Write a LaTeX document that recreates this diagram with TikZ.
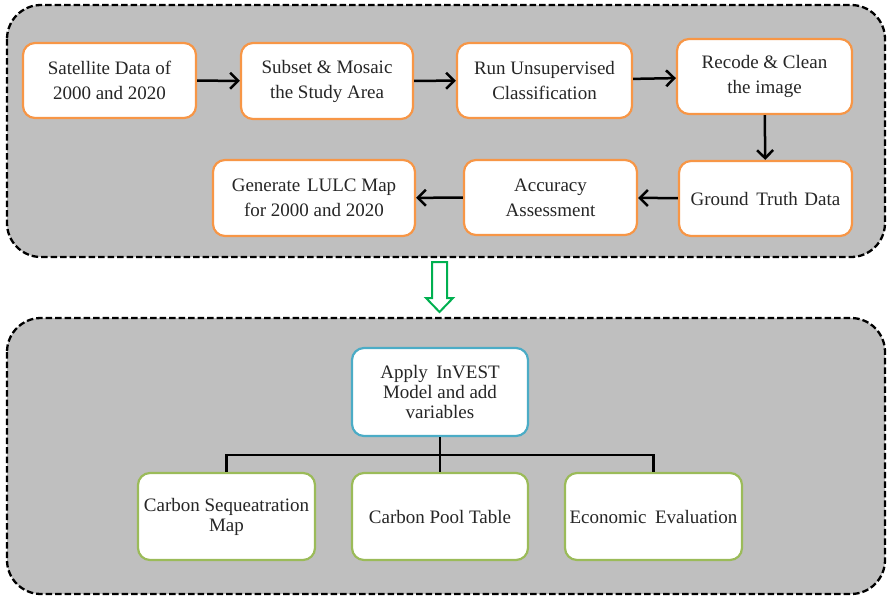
\documentclass[tikz,border=0pt]{standalone}
\usepackage{fontspec}
\setmainfont{Liberation Serif}
\usetikzlibrary{arrows.meta}
\definecolor{panelgray}{HTML}{BFBFBF}
\definecolor{boxorange}{HTML}{F79646}
\definecolor{boxgreen}{HTML}{9BBB59}
\definecolor{boxblue}{HTML}{4BACC6}
\definecolor{arrowgreen}{HTML}{00B050}
\definecolor{txt}{HTML}{262626}
\begin{document}
\begin{tikzpicture}[x=1pt,y=-1pt,
  panel/.style={draw=black, fill=panelgray, line width=2.3pt, dash pattern=on 6.5pt off 3pt, rounded corners=34pt},
  box/.style={fill=white, line width=2.2pt, rounded corners=12pt, text=txt, align=center, inner sep=2pt},
  obox/.style={box, draw=boxorange, font=\fontsize{19}{25}\selectfont},
  gbox/.style={box, draw=boxgreen, font=\fontsize{19}{20}\selectfont},
  bbox/.style={box, draw=boxblue, font=\fontsize{19}{20}\selectfont},
  flow/.style={line width=2.5pt, -{Straight Barb[length=8pt,width=16pt]}},
  tree/.style={line width=2.5pt},
  bigarrow/.style={draw=arrowgreen, line width=2pt, fill=white}]
\useasboundingbox (0,0) rectangle (889,597);
% panels
\path[panel] (7,5) rectangle (885,257);
\path[panel] (7,318) rectangle (885,594);
% top flow boxes
\node[obox, minimum width=173pt, minimum height=75pt] (sat) at (109.5,80.5) {Satellite Data of\\2000 and 2020};
\node[obox, minimum width=172pt, minimum height=76pt] (sub) at (327,81) {Subset \& Mosaic\\the Study Area};
\node[obox, minimum width=175pt, minimum height=75pt] (run) at (544.5,80.5) {Run Unsupervised\\Classification};
\node[obox, minimum width=175pt, minimum height=75pt] (rec) at (764.5,76.5) {Recode \& Clean\\the image};
\node[obox, minimum width=173pt, minimum height=75pt] (gtd) at (765.5,198.5) {Ground\hspace{0.15em} Truth\hspace{0.1em} Data};
\node[obox, minimum width=173pt, minimum height=75pt] (acc) at (550.5,197.5) {Accuracy\\Assessment};
\node[obox, minimum width=202pt, minimum height=76pt] (gen) at (314,198) {Generate\hspace{0.1em} LULC Map\\for 2000 and 2020};
\draw[flow] (sat) -- (sub);
\draw[flow] (sub) -- (run);
\draw[flow] (run) -- (rec);
\draw[flow] (rec) -- (gtd);
\draw[flow] (gtd) -- (acc);
\draw[flow] (acc) -- (gen);
% green hollow arrow
\path[bigarrow] (432,262) -- (447,262) -- (447,298) -- (453,298) -- (439.5,312) -- (426,298) -- (432,298) -- cycle;
% bottom boxes
\node[bbox, minimum width=176pt, minimum height=88pt] (inv) at (440,392) {Apply\hspace{0.2em} InVEST\\Model and add\\variables};
\node[gbox, minimum width=177pt, minimum height=87pt] (csm) at (226.5,516.5) {Carbon Sequeatration\\Map};
\node[gbox, minimum width=176pt, minimum height=87pt] (cpt) at (440,516.5) {Carbon Pool Table};
\node[gbox, minimum width=177pt, minimum height=87pt] (eco) at (653.5,516.5) {Economic\hspace{0.2em} Evaluation};
\coordinate (j) at (440,455);
\draw[tree] (inv) -- (cpt);
\draw[tree] (csm.north) |- (j) -| (eco.north);
\end{tikzpicture}
\end{document}
